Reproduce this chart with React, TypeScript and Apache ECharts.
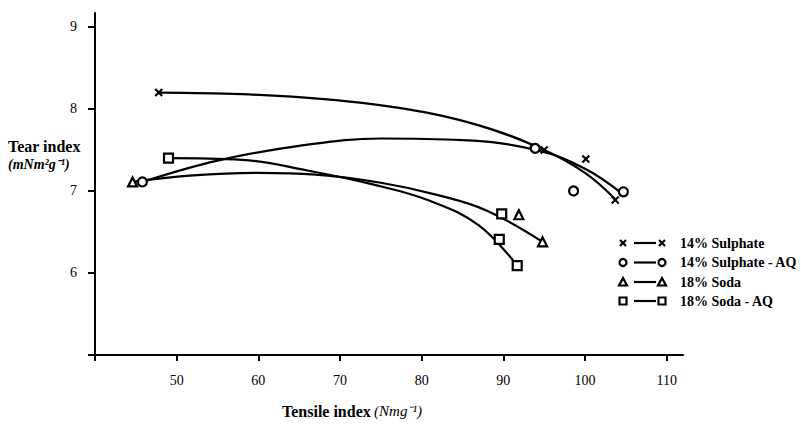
import React, { useEffect, useRef } from "react";
import * as echarts from "echarts";

// Measured points
const sulphatePts: number[][] = [[47.8, 8.2], [95, 7.5], [100.1, 7.39], [103.7, 6.89]];
const sulphateAQPts: number[][] = [[45.8, 7.11], [93.9, 7.52], [98.6, 7.0], [104.7, 6.99]];
const sodaPts: number[][] = [[44.6, 7.11], [91.9, 6.71], [94.8, 6.38]];
const sodaAQPts: number[][] = [[49.0, 7.4], [89.8, 6.72], [89.5, 6.41], [91.7, 6.09]];

// Fitted curves
const sulphateCurve: number[][] = [[47.8, 8.2], [58, 8.18], [68, 8.12], [78, 8.0], [87, 7.8], [95, 7.5], [100, 7.22], [103.7, 6.9]];
const sulphateAQCurve: number[][] = [[45.8, 7.11], [55, 7.37], [65, 7.55], [75, 7.64], [85, 7.62], [94, 7.5], [100, 7.27], [104.5, 6.97]];
const sodaCurve: number[][] = [[44.6, 7.11], [52, 7.19], [60, 7.22], [67, 7.2], [75, 7.1], [82, 6.95], [88, 6.76], [94.8, 6.38]];
const sodaAQCurve: number[][] = [[49.0, 7.4], [58, 7.38], [66, 7.25], [74, 7.08], [81, 6.88], [87, 6.58], [91.7, 6.09]];

const legendNames = ["14% Sulphate", "14% Sulphate - AQ", "18% Soda", "18% Soda - AQ"];

const FONT = "Liberation Serif";
const crossPath = "path://M0,0L10,10M10,0L0,10";

function curve(data: number[][]) {
  return {
    type: "line",
    data,
    showSymbol: false,
    symbol: "none",
    smooth: 0.4,
    lineStyle: { color: "#000", width: 2.2 },
    silent: true,
    z: 2,
  };
}

function pts(data: number[][], symbol: string, size: number) {
  return {
    type: "scatter",
    data,
    symbol,
    symbolSize: size,
    itemStyle: { color: symbol === crossPath ? "#000" : "#fff", borderColor: "#000", borderWidth: 2.2, opacity: 1 },
    z: 3,
  };
}

function legendRow(i: number, y: number) {
  const x1 = 623;
  const x2 = 662;
  const els: any[] = [];
  const marker = (cx: number) => {
    if (i === 0) {
      return [
        { type: "line", shape: { x1: cx - 3, y1: y - 3, x2: cx + 3, y2: y + 3 }, style: { stroke: "#000", lineWidth: 2.2 } },
        { type: "line", shape: { x1: cx + 3, y1: y - 3, x2: cx - 3, y2: y + 3 }, style: { stroke: "#000", lineWidth: 2.2 } },
      ];
    }
    if (i === 1) return [{ type: "circle", shape: { cx, cy: y, r: 3.5 }, style: { fill: "#fff", stroke: "#000", lineWidth: 2.2 } }];
    if (i === 2)
      return [{ type: "polygon", shape: { points: [[cx, y - 4], [cx + 4, y + 3.5], [cx - 4, y + 3.5]] }, style: { fill: "#fff", stroke: "#000", lineWidth: 2.2 } }];
    return [{ type: "rect", shape: { x: cx - 3.5, y: y - 3.5, width: 7, height: 7 }, style: { fill: "#fff", stroke: "#000", lineWidth: 2.2 } }];
  };
  els.push(...marker(x1));
  els.push({ type: "line", shape: { x1: x1 + 11, y1: y, x2: x2 - 6, y2: y }, style: { stroke: "#000", lineWidth: 2.2 } });
  els.push(...marker(x2));
  els.push({
    type: "text",
    x: 680,
    y,
    style: { text: legendNames[i], font: `bold 14px "${FONT}"`, fill: "#000", verticalAlign: "middle", textAlign: "left" },
  });
  return els;
}

export default function App() {
  const ref = useRef<HTMLDivElement>(null);
  useEffect(() => {
    if (!ref.current) return;
    const chart = echarts.init(ref.current, null, { renderer: "svg" });
    const rows = [243, 262.5, 282, 301];
    const legendEls = rows.flatMap((y, i) => legendRow(i, y));
    chart.setOption({
      animation: false,
      backgroundColor: "#fff",
      grid: { left: 95, right: 118, top: 13, bottom: 76, containLabel: false },
      xAxis: {
        type: "value",
        min: 40,
        max: 112,
        interval: 10,
        splitLine: { show: false },
        axisLine: { lineStyle: { color: "#000", width: 2 } },
        axisTick: { show: true, length: 6, lineStyle: { color: "#000", width: 2 } },
        axisLabel: {
          color: "#000",
          fontFamily: FONT,
          fontSize: 14,
          margin: 18,
          showMaxLabel: false,
          formatter: (v: number) => (v === 40 ? "" : String(v)),
        },
      },
      yAxis: {
        type: "value",
        min: 5,
        max: 9.17,
        interval: 1,
        splitLine: { show: false },
        axisLine: { show: true, lineStyle: { color: "#000", width: 2 } },
        axisTick: { show: true, length: 7, lineStyle: { color: "#000", width: 2 } },
        axisLabel: {
          color: "#000",
          fontFamily: FONT,
          fontSize: 14,
          margin: 18,
          showMaxLabel: false,
          formatter: (v: number) => (v === 5 ? "" : String(v)),
        },
      },
      graphic: [
        {
          type: "text",
          x: 8,
          y: 146,
          style: { text: "Tear index", font: `bold 16px "${FONT}"`, fill: "#000", verticalAlign: "middle" },
        },
        {
          type: "text",
          x: 8,
          y: 164,
          style: { text: "(mNm²g⁻¹)", font: `italic bold 14px "${FONT}"`, fill: "#000", verticalAlign: "middle" },
        },
        {
          type: "text",
          x: 282,
          y: 411,
          style: {
            text: "{b|Tensile index} {i|(Nmg⁻¹)}",
            verticalAlign: "middle",
            rich: {
              b: { font: `bold 16px "${FONT}"`, fill: "#000" },
              i: { font: `italic 15px "${FONT}"`, fill: "#000" },
            },
          },
        },
        ...legendEls,
      ],
      series: [
        curve(sulphateCurve),
        curve(sulphateAQCurve),
        curve(sodaCurve),
        curve(sodaAQCurve),
        pts(sulphatePts, crossPath, 7),
        pts(sulphateAQPts, "circle", 9),
        pts(sodaPts, "triangle", 9),
        pts(sodaAQPts, "rect", 9),
      ],
    });
    return () => chart.dispose();
  }, []);
  return <div ref={ref} style={{ width: 801, height: 431, position: "absolute", left: 0, top: 0 }} />;
}
